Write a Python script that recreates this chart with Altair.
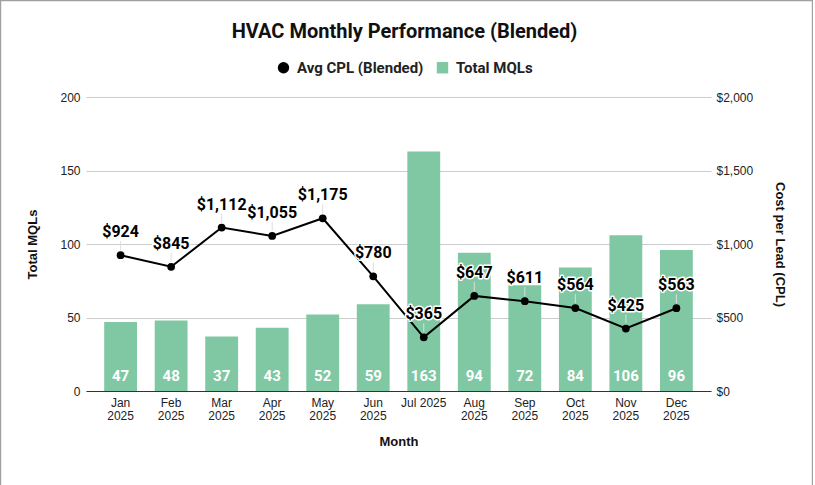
import altair as alt
import pandas as pd

# Monthly figures
months = ["Jan 2025", "Feb 2025", "Mar 2025", "Apr 2025", "May 2025", "Jun 2025",
          "Jul 2025", "Aug 2025", "Sep 2025", "Oct 2025", "Nov 2025", "Dec 2025"]
total_mqls = [47, 48, 37, 43, 52, 59, 163, 94, 72, 84, 106, 96]
avg_cpl = [924, 845, 1112, 1055, 1175, 780, 365, 647, 611, 564, 425, 563]

series_names = ["Avg CPL (Blended)", "Total MQLs"]
series_colors = ["#000000", "#7fc8a3"]
mql_ticks = [0, 50, 100, 150, 200]
cpl_ticks = [0, 500, 1000, 1500, 2000]

df = pd.DataFrame({"Month": months, "MQLs": total_mqls, "CPL": avg_cpl})
df["cpl_label"] = ["$" + f"{v:,}" for v in avg_cpl]

LABEL_FONT = "Liberation Sans"
DATA_FONT = "Roboto"

x_enc = alt.X(
    "Month:N",
    sort=months,
    scale=alt.Scale(paddingInner=0.35, paddingOuter=0.36),
    axis=alt.Axis(
        title="Month",
        labelAngle=0,
        labelExpr="datum.value == 'Jul 2025' ? datum.value : split(datum.value, ' ')",
        labelLineHeight=13,
        labelPadding=6,
        ticks=False,
        domainColor="#333333",
        titlePadding=14,
    ),
)

color_scale = alt.Scale(domain=series_names, range=series_colors)
legend = alt.Legend(
    orient="none",
    legendX=190,
    legendY=-37,
    direction="horizontal",
    title=None,
    labelFont=DATA_FONT,
    labelFontWeight="bold",
    labelFontSize=15,
    labelColor="#222222",
    symbolSize=130,
    symbolStrokeWidth=0,
    columnPadding=11,
    labelOffset=6,
    symbolType={"expr": "datum.value === 'Total MQLs' ? 'square' : 'circle'"},
)
color_enc = alt.Color("series:N", scale=color_scale, legend=legend)

y_left = alt.Y(
    "MQLs:Q",
    scale=alt.Scale(domain=[0, 200], nice=False),
    axis=alt.Axis(
        title="Total MQLs",
        values=mql_ticks,
        grid=True,
        gridColor="#cccccc",
        ticks=False,
        domain=False,
        labelPadding=6,
        titlePadding=20,
    ),
)

bars = (
    alt.Chart(df)
    .transform_calculate(series="'Total MQLs'")
    .mark_bar()
    .encode(x=x_enc, y=y_left, color=color_enc)
)

bar_labels = alt.Chart(df).mark_text(
    font=DATA_FONT, fontWeight="bold", fontSize=15, color="white", dy=-15, baseline="middle"
).encode(x=x_enc, y=alt.YDatum(0), text="MQLs:Q")

left = alt.layer(bars, bar_labels)

y_right = alt.Y(
    "CPL:Q",
    scale=alt.Scale(domain=[0, 2000], nice=False),
    axis=alt.Axis(
        title="Cost per Lead (CPL)",
        orient="right",
        values=cpl_ticks,
        format="$,.0f",
        grid=False,
        ticks=False,
        domain=False,
        labelPadding=5,
        titlePadding=20,
    ),
)

line = alt.Chart(df).mark_line(color="black", strokeWidth=2).encode(x=x_enc, y=y_right)

stems = alt.Chart(df).mark_rule(color="#dddddd", strokeWidth=1, yOffset=-5, y2Offset=-14).encode(
    x=x_enc, y=y_right, y2="CPL:Q"
)

points = (
    alt.Chart(df)
    .transform_calculate(series="'Avg CPL (Blended)'")
    .mark_point(filled=True, size=60, opacity=1)
    .encode(x=x_enc, y=y_right, color=color_enc)
)

halo = alt.Chart(df).mark_text(
    font=DATA_FONT, fontWeight="bold", fontSize=16, dy=-23, baseline="middle",
    color="white", stroke="white", strokeWidth=3, strokeJoin="round",
).encode(x=x_enc, y=y_right, text="cpl_label:N")

cpl_labels = alt.Chart(df).mark_text(
    font=DATA_FONT, fontWeight="bold", fontSize=16, dy=-23, baseline="middle", color="black",
).encode(x=x_enc, y=y_right, text="cpl_label:N")

right = alt.layer(line, stems, points, halo, cpl_labels)

# Thin gray frame around the chart card (open at the bottom edge)
frame = alt.Chart(pd.DataFrame({"frame": [0]})).mark_rect(
    fill=None, stroke="#a0a0a0", strokeWidth=1.2
).encode(
    x=alt.value(-85.4), x2=alt.value(726.4),
    y=alt.value(-96.4), y2=alt.value(410),
)

chart = (
    alt.layer(left, right, frame)
    .resolve_scale(y="independent")
    .properties(
        width=625,
        height=294,
        autosize=alt.AutoSizeParams(type="none"),
        padding={"left": 86, "top": 97, "right": 104, "bottom": 94},
        background="white",
        title=alt.Title(
            "HVAC Monthly Performance (Blended)",
            font=DATA_FONT,
            fontSize=20,
            fontWeight="bold",
            color="#111111",
            anchor="middle",
            dx=6,
            dy=42,
            offset=0,
        ),
    )
    .configure_view(stroke=None)
    .configure_axis(
        labelFont=LABEL_FONT,
        labelFontSize=12,
        labelColor="#222222",
        titleFont=LABEL_FONT,
        titleFontSize=13,
        titleFontWeight="bold",
        titleColor="#111111",
    )
)

chart.save("out.html", embed_options={"renderer": "svg", "actions": False})
